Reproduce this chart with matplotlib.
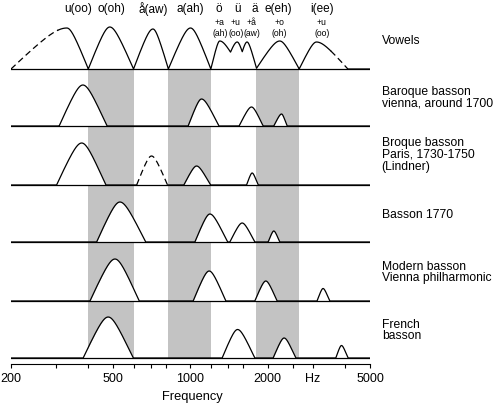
import numpy as np
import matplotlib.pyplot as plt

plt.rcParams['font.family'] = ['Liberation Sans', 'DejaVu Sans']

# formant humps per row: (start Hz, peak Hz, end Hz, height)
vowels = [(200, 330, 400, 41), (400, 485, 600, 42), (600, 714, 820, 40), (820, 1000, 1200, 41),
          (1200, 1300, 1568, 28), (1347, 1520, 1669, 27), (1519, 1660, 1810, 27),
          (1800, 2226, 2650, 28), (2650, 3094, 4100, 27)]
baroque_vienna = [(308, 381, 473, 41), (979, 1104, 1290, 27), (1546, 1728, 1918, 19), (2110, 2262, 2378, 12)]
baroque_paris = [(301, 377, 468, 42), (617, 705, 814, 29), (942, 1056, 1197, 19), (1653, 1738, 1834, 12)]
basson_1770 = [(431, 531, 669, 40), (1040, 1190, 1394, 28), (1423, 1589, 1780, 19), (2006, 2110, 2226, 11)]
modern_vienna = [(406, 508, 631, 42), (1024, 1182, 1373, 30), (1780, 1964, 2174, 20), (3110, 3282, 3485, 12.5)]
french = [(382, 478, 598, 41), (1328, 1525, 1780, 28.5), (2098, 2315, 2570, 20), (3679, 3872, 4106, 12.5)]

# dashed parts: (side, up to fraction of height)
vowels_dash = [('left', 0.95), None, None, None, None, None, None, None, ('right', 0.67)]
baroque_paris_dash = [None, ('all', 1.0), None, None]

row_labels = ['Vowels', 'Baroque basson\nvienna, around 1700', 'Broque basson\nParis, 1730-1750\n(Lindner)',
              'Basson 1770', 'Modern basson\nVienna philharmonic', 'French\nbasson']

# shaded formant regions (Hz)
band_lo = [400, 820, 1800]
band_hi = [600, 1200, 2650]

vowel_names = ['u(oo)', 'o(oh)', 'å(aw)', 'a(ah)', 'ö', 'ü', 'ä', 'e(eh)', 'i(ee)']
vowel_name_f = [365, 494, 714, 994, 1290, 1522, 1780, 2198, 3245]
mix_top = ['+a', '+u', '+å', '+o', '+u']
mix_bot = ['(ah)', '(oo)', '(aw)', '(oh)', '(oo)']
mix_f = [1300, 1502, 1730, 2217, 3245]

tick_f = [200, 500, 1000, 2000, 3000, 5000]
tick_lab = ['200', '500', '1000', '2000', 'Hz', '5000']
minor_f = [300, 400, 600, 700, 800, 1200, 1400, 1600, 2500, 4000]


def hump(f, lo, pk, hi, h, r=0.3):
    lf = np.log10(f)
    u = np.where(f < pk, (lf - np.log10(pk)) / (np.log10(pk) - np.log10(lo)),
                 (lf - np.log10(pk)) / (np.log10(hi) - np.log10(pk)))
    g = (np.sqrt(1 + r * r) - np.sqrt(u * u + r * r)) / (np.sqrt(1 + r * r) - r)
    return h * np.clip(g, 0, None)


fig = plt.figure(figsize=(5, 4.06), dpi=100)
ax = fig.add_axes([11 / 500, 0, 359 / 500, 1])
ax.set_xscale('log')
ax.set_xlim(200, 5000)
ax.set_ylim(406, 0)

bases = [70, 127, 186, 243, 302, 359]
rows = [vowels, baroque_vienna, baroque_paris, basson_1770, modern_vienna, french]
dashes = [vowels_dash, [None] * 4, baroque_paris_dash, [None] * 4, [None] * 4, [None] * 4]

for lo, hi in zip(band_lo, band_hi):
    ax.fill_between([lo, hi], bases[0], bases[-1], color='#c3c3c3', lw=0, zorder=1)

f = np.logspace(np.log10(200), np.log10(5000), 4000)
for base, humps, dsh in zip(bases, rows, dashes):
    env_all = np.zeros_like(f)
    env_solid = np.zeros_like(f)
    for (lo, pk, hi, h), d in zip(humps, dsh):
        y = hump(f, lo, pk, hi, h)
        ax.fill_between(f, base - y, base, where=y > 0, color='white', lw=0, zorder=2)
        env_all = np.maximum(env_all, y)
        if d is not None:
            side, frac = d
            inside = (f >= lo) & (f <= hi) & (y <= frac * h + 1e-9)
            if side == 'left':
                m = inside & (f <= pk)
            elif side == 'right':
                m = inside & (f >= pk)
            else:
                m = inside
            ax.plot(f[m], base - y[m], color='black', lw=0.9, ls=(0, (5, 3)), zorder=3)
            y = np.where(m, 0, y)
        env_solid = np.maximum(env_solid, y)
    line = np.where(env_solid >= env_all - 1e-9, base - env_solid, np.nan)
    ax.plot([200, 5000], [base, base], color='black', lw=0.9, zorder=3)
    ax.plot(f, line, color='black', lw=0.9, zorder=3)

# labels
for lab, base in zip(row_labels, [41, 97.8, 155, 215, 272.3, 330.3]):
    ax.text(5554, base, lab, ha='left', va='center', fontsize=8.7, linespacing=0.95)

for name, fx in zip(vowel_names, vowel_name_f):
    ax.text(fx, 9, name, ha='center', va='center', fontsize=8.5)
for t, b, fx in zip(mix_top, mix_bot, mix_f):
    ax.text(fx, 22.5, t, ha='center', va='center', fontsize=6.2)
    ax.text(fx, 33.5, b, ha='center', va='center', fontsize=6.2)

for s in ['left', 'right', 'top']:
    ax.spines[s].set_visible(False)
ax.spines['bottom'].set_position(('data', 365))
ax.spines['bottom'].set_linewidth(0.8)
ax.set_yticks([])
ax.set_xticks(tick_f)
ax.set_xticklabels(tick_lab)
ax.set_xticks(minor_f, minor=True)
ax.xaxis.set_minor_formatter(plt.NullFormatter())
ax.tick_params(axis='x', which='both', direction='out', length=3, width=0.8, pad=2.5, labelsize=9)
ax.set_xlabel('Frequency', fontsize=9.3)
ax.xaxis.set_label_coords((192.5 - 11) / 359, 0.036)

fig.savefig('out.png', dpi=100)
